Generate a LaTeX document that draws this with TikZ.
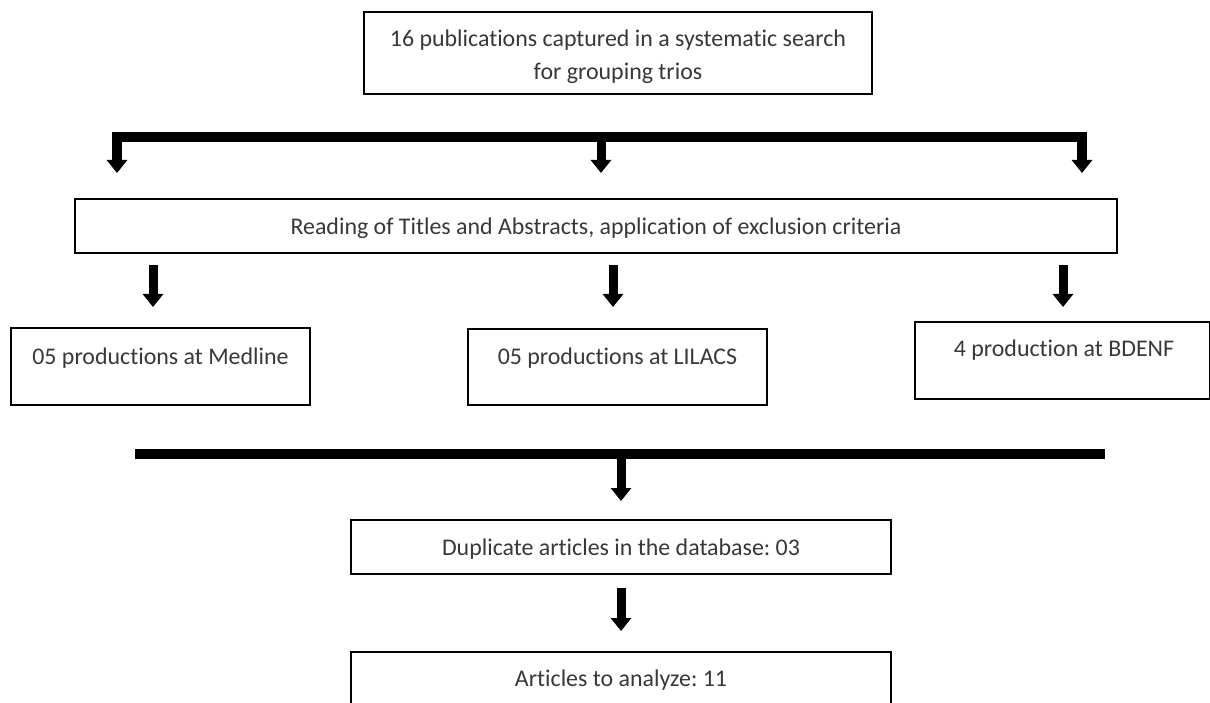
\documentclass[tikz,border=0pt]{standalone}
\usepackage{fontspec}
\setmainfont{Carlito}[Ligatures=NoCommon]
\usetikzlibrary{arrows.meta,calc}
\frenchspacing
\begin{document}
\begin{tikzpicture}[x=1pt,y=-1pt,
  box/.style={draw=black, line width=2.8pt, rectangle, inner sep=0pt},
  txt/.style={font=\fontsize{23.9}{33}\selectfont, text=black!78, inner sep=0pt, align=center},
  fatarrow/.style={line width=9pt, -{Triangle[width=20pt,length=13pt]}},
  fatbar/.style={line width=10pt, line join=miter}]
\useasboundingbox (0,0) rectangle (1210,703);
\clip (0,0) rectangle (1210,703);
\fill[white] (0,0) rectangle (1210,703);

% boxes
\node[box, minimum width=508pt, minimum height=82pt] (top) at (618,53) {};
\node[txt] (toptext) at (618,57) {16 publications captured in a systematic search\\for grouping trios};

\node[box, minimum width=1042pt, minimum height=54pt] (read) at (596,226) {};
\node[txt] (readtext) at (596,228) {Reading of Titles and Abstracts, application of exclusion criteria};

\node[box, minimum width=299pt, minimum height=77pt] (medline) at (160.5,366.5) {};
\node[txt] (medtext) at (160.5,358) {05 productions at Medline};

\node[box, minimum width=299pt, minimum height=76pt] (lilacs) at (617.5,367) {};
\node[txt] (liltext) at (617.5,358) {05 productions at LILACS};

\node[box, minimum width=295pt, minimum height=77pt] (bdenf) at (1062.5,360.5) {};
\node[txt] (bdtext) at (1064,350) {4 production at BDENF};

\node[box, minimum width=540pt, minimum height=54pt] (dup) at (621,547) {};
\node[txt] (duptext) at (621,549) {Duplicate articles in the database: 03};

\node[box, minimum width=540pt, minimum height=70pt] (art) at (621,687) {};
\node[txt] (arttext) at (621,680) {Articles to analyze: 11};

% bracket from top box
\coordinate (bl) at (117,137);
\coordinate (bm) at (601,137);
\coordinate (br) at (1082,137);
\coordinate (tl) at (117,173);
\coordinate (tm) at (601,173);
\coordinate (tr) at (1082,173);
\draw[line width=9.5pt, line join=miter, {Triangle[width=20pt,length=13pt]}-{Triangle[width=20pt,length=13pt]}] (tl) -- (bl) -- (br) -- (tr);
\draw[fatarrow] (bm) -- (tm);

% arrows below reading box
\coordinate (a1s) at (153,265); \coordinate (a1e) at (153,307);
\coordinate (a2s) at (613,265); \coordinate (a2e) at (613,307);
\coordinate (a3s) at (1063,265); \coordinate (a3e) at (1063,307);
\draw[fatarrow] (a1s) -- (a1e);
\draw[fatarrow] (a2s) -- (a2e);
\draw[fatarrow] (a3s) -- (a3e);

% bottom bar
\coordinate (barl) at (135,454);
\coordinate (barr) at (1105,454);
\coordinate (barm) at (621,454);
\coordinate (barme) at (621,501);
\draw[fatbar] (barl) -- (barr);
\draw[fatarrow] (barm) -- (barme);

% arrow between duplicate and articles
\coordinate (d2s) at (621,588);
\coordinate (d2e) at (621,631);
\draw[fatarrow] (d2s) -- (d2e);
\end{tikzpicture}
\end{document}
